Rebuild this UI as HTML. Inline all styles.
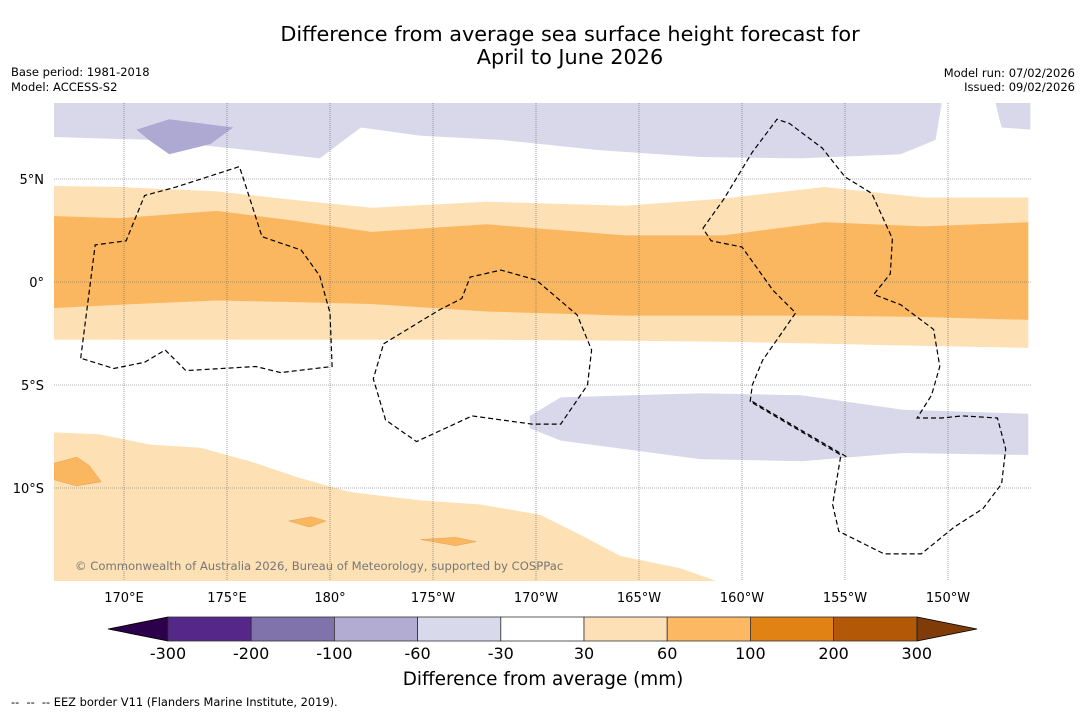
<!DOCTYPE html>
<html><head><meta charset="utf-8">
<style>
html,body{margin:0;padding:0;background:#fff;}
body{width:1085px;height:713px;overflow:hidden;font-family:"DejaVu Sans","Liberation Sans",sans-serif;}
</style></head>
<body>
<svg id="chart" width="1085" height="713" viewBox="0 0 1085 713" xmlns="http://www.w3.org/2000/svg" font-family="DejaVu Sans, Liberation Sans, sans-serif">
<text x="570" y="41" font-size="20.8" text-anchor="middle">Difference from average sea surface height forecast for</text>
<text x="570" y="64" font-size="20.8" text-anchor="middle">April to June 2026</text>
<text x="11" y="76" font-size="11.5">Base period: 1981-2018</text>
<text x="11" y="91" font-size="11.5">Model: ACCESS-S2</text>
<text x="1075" y="77" font-size="11.5" text-anchor="end">Model run: 07/02/2026</text>
<text x="1075" y="91" font-size="11.5" text-anchor="end">Issued: 09/02/2026</text>
<defs><clipPath id="mapclip"><rect x="54" y="103" width="977" height="478"/></clipPath></defs>
<g id="map" clip-path="url(#mapclip)"></g>
<g id="axes"></g>
<g id="cbar"></g>
<text x="543" y="685" font-size="18.4" text-anchor="middle">Difference from average (mm)</text>
<text x="11" y="706" font-size="11.4" style="white-space:pre" xml:space="preserve">--  --  -- EEZ border V11 (Flanders Marine Institute, 2019).</text>
</svg>
<script>
// ---- data (lon in degrees east 0-360, lat in degrees) ----
const lonTicks = [170,175,180,185,190,195,200,205,210];
const lonTickLabels = ["170°E","175°E","180°","175°W","170°W","165°W","160°W","155°W","150°W"];
const latTicks = [5,0,-5,-10];
const latTickLabels = ["5°N","0°","5°S","10°S"];
const lavLons = [166.6,171.3,176.1,179.5,181.5,184.4,188.3,193.1,198,202.8,207.7,209.4,209.7,212.3,212.6,214.0];
const lavTopBottom = [7.04,6.9,6.4,6.0,7.5,7.1,6.9,6.4,6.07,6.0,6.2,6.9,8.7,8.7,7.5,7.4];
const bandLons = [166.6,169.8,174.5,178.1,182,187.6,194.3,199.1,204,208.8,213.9];
const lightOrTop = [4.66,4.61,4.4,4.0,3.6,3.9,3.7,4.05,4.61,4.1,4.1];
const darkOrTop = [3.2,3.1,3.45,3.0,2.43,2.8,2.26,2.26,2.9,2.7,2.9];
const darkOrBottom = [-1.26,-1.1,-0.9,-0.97,-1.07,-1.43,-1.63,-1.63,-1.63,-1.7,-1.84];
const lightOrBottom = [-2.8,-2.8,-2.8,-2.8,-2.8,-2.8,-2.85,-2.9,-3.0,-3.1,-3.2];
const southLons = [166.6,168.8,171.3,173.7,176.1,178.5,181,184.4,187.3,190.2,192.2,194.1,197,199];
const southTop = [-7.3,-7.4,-7.9,-8.05,-8.7,-9.5,-10.2,-10.6,-10.8,-11.3,-12.3,-13.3,-13.9,-14.6];
const eastLavLons = [189.7,191.2,198,202.9,207.8,213.9];
const eastLavTop = [-6.5,-5.6,-5.4,-5.5,-6.2,-6.4];
const eastLavBottom = [-7.1,-7.7,-8.6,-8.7,-8.3,-8.4];
const darkLavLon = [170.6,172.2,175.3,174.2,172.2,171.2];
const darkLavLat = [7.4,7.9,7.5,6.7,6.2,6.9];
const orPatchA_lon = [166.6,167.7,168.3,168.9,167.7,166.6];
const orPatchA_lat = [-8.8,-8.5,-8.9,-9.7,-9.9,-9.6];
const orPatchB_lon = [178.0,179.1,179.8,179.0,178.0];
const orPatchB_lat = [-11.6,-11.4,-11.6,-11.9,-11.6];
const orPatchC_lon = [184.4,186.1,187.1,186.1,184.4];
const orPatchC_lat = [-12.5,-12.4,-12.6,-12.8,-12.5];
const eez1_lon = [167.9,168.6,170.1,171.0,172.5,175.6,175.9,176.7,178.6,179.5,180.0,180.1,177.6,176.4,173.0,172.0,171.0,169.5,167.9];
const eez1_lat = [-3.7,1.8,2.0,4.2,4.6,5.6,4.7,2.2,1.55,0.3,-1.5,-4.1,-4.4,-4.1,-4.3,-3.3,-3.9,-4.2,-3.7];
const eez2_lon = [182.6,185.3,186.4,186.8,188.3,190.0,192.0,192.7,192.5,191.2,189.8,186.9,184.2,182.7,182.1,182.6];
const eez2_lat = [-3.0,-1.36,-0.8,0.24,0.58,0.1,-1.6,-3.3,-5.0,-6.9,-6.9,-6.5,-7.75,-6.7,-4.7,-3.0];
const eez3_lon = [198.1,199.1,200.5,201.7,202.3,203.9,205.0,206.3,207.3,207.2,206.4,207.7,209.3,209.6,209.2,208.5,209.7,210.7,212.4,212.8,212.6,211.7,210.3,208.7,206.9,204.7,204.4,204.8,200.4,200.5,201.0,201.7,202.6,201.5,200.0,198.5,198.1];
const eez3_lat = [2.6,4.0,6.3,7.9,7.7,6.5,5.1,4.3,2.1,0.4,-0.6,-1.1,-2.3,-4.1,-5.5,-6.6,-6.6,-6.5,-6.6,-8.1,-9.8,-11.0,-11.9,-13.2,-13.2,-12.1,-10.8,-8.4,-5.8,-5.0,-3.8,-2.8,-1.5,-0.4,1.7,2.0,2.6];

// ---- axis functions ----
const x = lon => 124 + (lon - 170) * 20.6;
const y = lat => 282 - lat * 20.6;
const NS = "http://www.w3.org/2000/svg";
function mk(tag, attrs, parent){ const e=document.createElementNS(NS,tag); for(const k in attrs) e.setAttribute(k,attrs[k]); parent.appendChild(e); return e; }
function pts(lons, lats){ return lons.map((l,i)=>x(l).toFixed(1)+","+y(lats[i]).toFixed(1)); }
function bandPath(lons, top, bottom){
  const a = pts(lons, top), b = pts(lons, bottom).reverse();
  return "M"+a.join(" L")+" L"+b.join(" L")+" Z";
}
const map = document.getElementById("map");
const topLat = lavLons.map(()=>9);
let p;
p = mk("path",{d:bandPath(lavLons, topLat, lavTopBottom), fill:"#d8d8ea"}, map);


p = mk("path",{d:"M"+pts(darkLavLon,darkLavLat).join(" L")+" Z", fill:"#aea9d2"}, map);


p = mk("path",{d:bandPath(bandLons, lightOrTop, lightOrBottom), fill:"#fde0b4"}, map);


p = mk("path",{d:bandPath(bandLons, darkOrTop, darkOrBottom), fill:"#fbb660"}, map);


const southBottom = southLons.map(()=>-15);
p = mk("path",{d:bandPath(southLons, southTop, southBottom), fill:"#fde0b4"}, map);


p = mk("path",{d:bandPath(eastLavLons, eastLavTop, eastLavBottom), fill:"#d8d8ea"}, map);


[[orPatchA_lon,orPatchA_lat],[orPatchB_lon,orPatchB_lat],[orPatchC_lon,orPatchC_lat]].forEach(([a,b])=>{
  const q = mk("path",{d:"M"+pts(a,b).join(" L")+" Z", fill:"#fbb660", stroke:"#e0a050","stroke-width":0.5}, map);
  
  
});
lonTicks.forEach(l=>{ const g=mk("line",{x1:x(l),x2:x(l),y1:103,y2:581,stroke:"#666","stroke-width":0.6,"stroke-dasharray":"1,1"},map);
  
   });
latTicks.forEach(l=>{ const g=mk("line",{x1:54,x2:1031,y1:y(l),y2:y(l),stroke:"#666","stroke-width":0.6,"stroke-dasharray":"1,1"},map);
  
   });
[[eez1_lon,eez1_lat],[eez2_lon,eez2_lat],[eez3_lon,eez3_lat]].forEach(([a,b])=>{
  const q = mk("polyline",{points:pts(a,b).join(" "), fill:"none", stroke:"#000","stroke-width":1.2,"stroke-dasharray":"5,3"}, map);
  
  
});
const shared = mk("polyline",{points:pts([200.5,205.1],[-5.8,-8.5]).join(" "), fill:"none", stroke:"#000","stroke-width":1.2,"stroke-dasharray":"5,3"}, map);


const cr = mk("text",{x:75,y:570,"font-size":11.6,fill:"#777"},map);
cr.textContent = "© Commonwealth of Australia 2026, Bureau of Meteorology, supported by COSPPac";


const axes = document.getElementById("axes");
lonTicks.forEach((l,i)=>{ const t=mk("text",{x:x(l),y:602,"font-size":13,"text-anchor":"middle"},axes); t.textContent=lonTickLabels[i];
  
   });
latTicks.forEach((l,i)=>{ const t=mk("text",{x:44,y:y(l)+5,"font-size":13,"text-anchor":"end"},axes); t.textContent=latTickLabels[i];
  
   });
const cbLabels = ["-300","-200","-100","-60","-30","30","60","100","200","300"];
const cbColors = ["#542788","#8073ac","#b2abd2","#d8daeb","#ffffff","#fee0b6","#fdb863","#e08214","#b35806"];
const cb = document.getElementById("cbar");
const cbx = i => 168 + i * 83.2;
const tl = mk("polygon",{points:"108,629 168,617 168,641",fill:"#2d004b",stroke:"#000","stroke-width":0.8},cb);


const tr = mk("polygon",{points:"977,629 917,617 917,641",fill:"#7f3b08",stroke:"#000","stroke-width":0.8},cb);


cbColors.forEach((c,i)=>{ const r=mk("rect",{x:cbx(i),y:617,width:83.2,height:24,fill:c,stroke:"#333","stroke-width":0.8},cb);
  
   });
cbLabels.forEach((s,i)=>{ const t=mk("text",{x:cbx(i),y:659,"font-size":16,"text-anchor":"middle"},cb); t.textContent=s;
  
   });
</script>
</body></html>
